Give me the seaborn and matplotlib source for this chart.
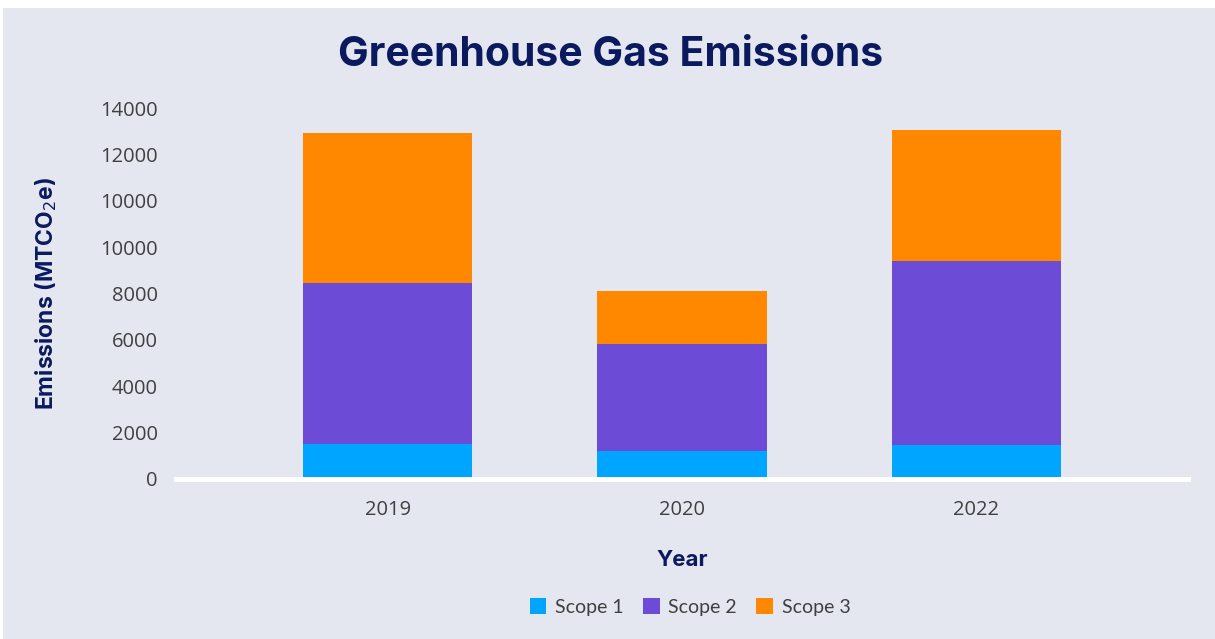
import numpy as np
import pandas as pd
import matplotlib.pyplot as plt
from matplotlib.patches import Rectangle, Patch
import seaborn as sns

# datos
years = ["2019", "2020", "2022"]
scope1 = [1510, 1205, 1480]
scope2 = [6955, 4630, 7920]
scope3 = [6455, 2270, 5650]
y_ticks = [0, 2000, 4000, 6000, 8000, 10000, 12000, 14000, 16000]
y_tick_labels = ["0", "2000", "4000", "6000", "8000", "10000", "10000", "12000", "14000"]

BG = "#E4E7F0"
NAVY = "#0B1A5E"
GREY = "#404040"
colors = {"Scope 1": "#00A5FF", "Scope 2": "#6C4CD6", "Scope 3": "#FF8800"}

df = pd.DataFrame({"year": years, "s1": scope1, "s2": scope2, "s3": scope3})
df["c2"] = df["s1"] + df["s2"]
df["c3"] = df["c2"] + df["s3"]

sns.set_theme(style="white")
plt.rcParams["font.family"] = ["Open Sans", "DejaVu Sans"]

fig = plt.figure(figsize=(12.15, 6.39), dpi=100, facecolor="white")
fig.patches.append(Rectangle((3 / 1215, 0), 1, (639 - 8) / 639,
                             transform=fig.transFigure, facecolor=BG,
                             edgecolor="none", zorder=-10))
ax = fig.add_axes([176 / 1215, 1 - 479 / 639, 1012 / 1215, (479 - 108) / 639])
ax.set_facecolor(BG)
ax.patch.set_alpha(0)

# barras apiladas: se dibujan los acumulados de mayor a menor
for col, key, z in [("c3", "Scope 3", 2), ("c2", "Scope 2", 3), ("s1", "Scope 1", 4)]:
    sns.barplot(data=df, x="year", y=col, color=colors[key], width=0.575,
                saturation=1, linewidth=0, edgecolor="none", ax=ax, zorder=z)

ax.set_xlim(-0.72, 2.72)
ax.set_ylim(0, 16000)
ax.set_yticks(y_ticks)
ax.set_yticklabels(y_tick_labels)
ax.tick_params(axis="y", length=0, pad=13, labelsize=14.5, labelcolor=GREY)
ax.tick_params(axis="x", length=0, pad=15, labelsize=14.5, labelcolor=GREY)

for s in ["left", "right", "top"]:
    ax.spines[s].set_visible(False)
ax.spines["bottom"].set_color("white")
ax.spines["bottom"].set_linewidth(3.6)
ax.spines["bottom"].set_zorder(5)

ax.set_xlabel("Year", fontsize=16, fontweight="bold", color=NAVY,
              family=["Inter", "DejaVu Sans"], labelpad=22)
ax.set_ylabel("Emissions (MTCO$_2$e)", fontsize=16.5, fontweight="bold", color=NAVY,
              family=["Inter", "DejaVu Sans"], labelpad=30)

fig.text(611 / 1215, 1 - 55 / 639, "Greenhouse Gas Emissions", ha="center", va="center",
         fontsize=29.5, fontweight="bold", color=NAVY, family=["Inter", "DejaVu Sans"])

handles = [Patch(facecolor=c, edgecolor="none", label=k) for k, c in colors.items()]
leg = fig.legend(handles=handles, loc="center", bbox_to_anchor=(690 / 1215, 1 - 607 / 639),
                 ncol=3, frameon=False, handlelength=0.85, handleheight=0.85,
                 handletextpad=0.45, columnspacing=1.0,
                 prop={"family": ["Lato", "DejaVu Sans"], "size": 14})
for t in leg.get_texts():
    t.set_color(GREY)

fig.savefig("out.png", dpi=100, facecolor=fig.get_facecolor())
